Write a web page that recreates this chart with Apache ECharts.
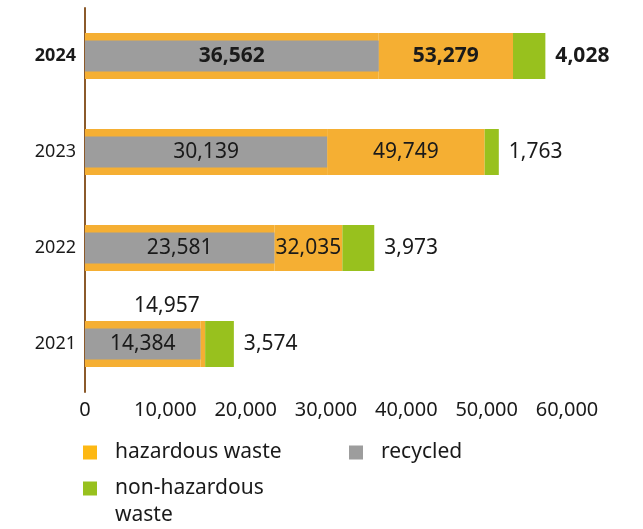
<!DOCTYPE html>
<html>
<head>
<meta charset="utf-8">
<script src="https://cdn.jsdelivr.net/npm/echarts@6/dist/echarts.min.js"></script>
<style>
  html, body { margin: 0; padding: 0; background: #fff; }
  #chart { width: 643px; height: 529px; }
</style>
</head>
<body>
<div id="chart"></div>
<script>
// data (bottom to top)
var years = ['2021', '2022', '2023', '2024'];
var hazardous = [14957, 32035, 49749, 53279];
var recycled = [14384, 23581, 30139, 36562];
var nonHazardous = [3574, 3973, 1763, 4028];
var xTicks = [0, 10000, 20000, 30000, 40000, 50000, 60000];

var FONT = '"Noto Sans", "Open Sans", sans-serif';
var ORANGE = '#F5AF33', GRAY = '#9D9D9D', GREEN = '#98C11E', INK = '#1a1a1a';

function fmt(v) {
  return Number(v).toLocaleString('en-US');
}
function isBold(i) { return years[i] === '2024'; }

// upper orange piece = part of hazardous not covered by the recycled bar
var hazardRest = hazardous.map((h, i) => ({
  value: h - recycled[i],
  label: i === 0
    ? { position: 'top', distance: 4, offset: [-36, 0] }
    : { fontWeight: isBold(i) ? 'bold' : 'normal' }
}));
var greenData = nonHazardous.map((v, i) => ({
  value: v,
  label: { fontWeight: isBold(i) ? 'bold' : 'normal' }
}));
var grayData = recycled.map((v, i) => ({
  value: v,
  label: { fontWeight: isBold(i) ? 'bold' : 'normal' }
}));

const myChart = echarts.init(document.getElementById('chart'));

var legendBase = {
  orient: 'horizontal',
  padding: 0,
  icon: 'rect',
  itemWidth: 14,
  itemHeight: 14,
  selectedMode: false,
  textStyle: { fontFamily: FONT, fontSize: 21, color: INK, lineHeight: 25, padding: [0, 0, 0, 13] }
};

let option = {
  animation: false,
  textStyle: { fontFamily: FONT },
  grid: { left: 85, top: 8, width: 482, height: 384, containLabel: false },
  legend: [
    Object.assign({}, legendBase, {
      left: 83, top: 440,
      data: [{ name: 'hazardous waste', itemStyle: { color: '#FDB813' } }]
    }),
    Object.assign({}, legendBase, {
      left: 349, top: 440,
      data: [{ name: 'recycled', itemStyle: { color: GRAY } }]
    }),
    Object.assign({}, legendBase, {
      left: 83, top: 448,
      data: [{ name: 'non-hazardous waste', itemStyle: { color: GREEN } }],
      // blank first line keeps the icon level with "non-hazardous"
      formatter: function () { return ' \nnon-hazardous\nwaste'; },
      textStyle: { fontFamily: FONT, fontSize: 21, color: INK, lineHeight: 27, padding: [0, 0, 0, 13] }
    })
  ],
  xAxis: {
    type: 'value',
    min: xTicks[0],
    max: xTicks[xTicks.length - 1],
    interval: xTicks[1] - xTicks[0],
    splitLine: { show: false },
    axisLine: { show: false },
    axisTick: { show: false },
    axisLabel: {
      margin: 8,
      fontFamily: FONT,
      fontSize: 20,
      color: INK,
      formatter: v => fmt(v)
    }
  },
  yAxis: [{
    type: 'category',
    data: years,
    axisLine: { show: true, lineStyle: { color: '#8B5A2B', width: 2 } },
    axisTick: { show: false },
    axisLabel: {
      margin: 9,
      fontFamily: FONT,
      fontSize: 18,
      color: INK,
      formatter: v => v === '2024' ? '{b|' + v + '}' : v,
      rich: { b: { fontFamily: FONT, fontSize: 18, fontWeight: 'bold', color: INK } }
    }
  }, {
    // hidden twin axis so the narrower recycled bar sits centred over the orange one
    type: 'category',
    data: years,
    show: false
  }],
  series: [
    {
      name: 'hazardous waste',
      type: 'bar',
      stack: 'waste',
      barWidth: 46,
      itemStyle: { color: ORANGE },
      silent: true,
      data: recycled
    },
    {
      name: 'hazardous waste',
      type: 'bar',
      stack: 'waste',
      barWidth: 46,
      itemStyle: { color: ORANGE },
      label: {
        show: true,
        position: 'inside',
        fontFamily: FONT,
        fontSize: 21,
        color: INK,
        formatter: p => fmt(hazardous[p.dataIndex])
      },
      data: hazardRest
    },
    {
      name: 'non-hazardous waste',
      type: 'bar',
      stack: 'waste',
      barWidth: 46,
      itemStyle: { color: GREEN },
      label: {
        show: true,
        position: 'right',
        distance: 10,
        fontFamily: FONT,
        fontSize: 21,
        color: INK,
        formatter: p => fmt(p.value)
      },
      data: greenData
    },
    {
      name: 'recycled',
      type: 'bar',
      yAxisIndex: 1,
      barWidth: 31,
      z: 3,
      itemStyle: { color: GRAY },
      label: {
        show: true,
        position: 'inside',
        fontFamily: FONT,
        fontSize: 21,
        color: INK,
        formatter: p => fmt(p.value)
      },
      data: grayData
    }
  ]
};

myChart.setOption(option);
</script>
</body>
</html>
